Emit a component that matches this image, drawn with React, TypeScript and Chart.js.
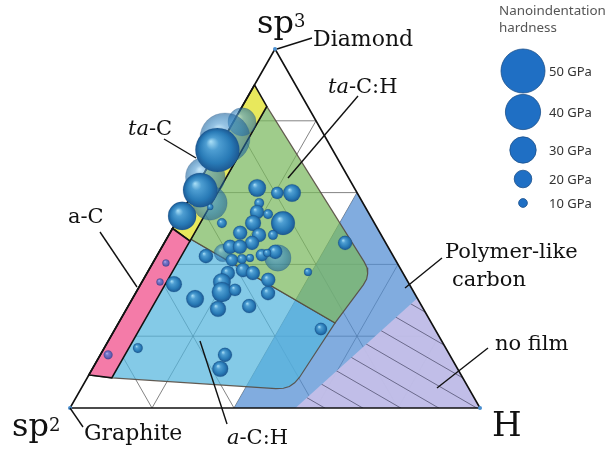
import React, { useEffect, useRef } from "react";
import { Chart, registerables } from "chart.js";

Chart.register(...registerables);

// ---------- data (ternary coordinates: sp3 %, H %, sp2 = 100 - sp3 - H) ----------
const cornerNames = ["sp3", "sp2", "H"];
const gridFractions = [20, 40, 60, 80];

// phase regions, vertices as [sp3 %, H %]
const polymerRegion = [[60, 40], [0, 40], [0, 100]];
const noFilmRegion = [[30.6, 69.4], [0, 55], [0, 100]];
const aCHRegion = [[47, 6], [23.7, 52.8], [8.5, 51.7], [7.0, 51.3], [6.0, 50.5], [5.5, 49.3], [5.4, 47.5], [8.4, 6], [9.2, 0], [50, 0]];
const taCHRegion = [[84, 6], [40.7, 51.4], [39.1, 52.9], [37.4, 53.9], [35.9, 54.4], [34.3, 54.4], [23.7, 52.8], [47, 6]];
const taCRegion = [[90, 0], [84, 6], [46.5, 6], [50, 0]];
const aCRegion = [[50, 0], [46.5, 6], [8.4, 6], [9.2, 0]];

// films, solid spheres
const filmSp3 = [71.9, 60.7, 53.5, 56.0, 51.5, 61.3, 59.9, 59.9, 57.1, 54.6, 54.0, 51.5, 51.5, 48.8, 48.2, 48.2, 46.0, 44.9, 44.9, 42.3, 43.5, 42.6, 41.2, 41.5, 41.8, 43.2, 34.5, 37.6, 38.4, 37.6, 35.7, 35.1, 32.3, 32.9, 30.4, 27.6, 28.4, 32.0, 37.9, 46.0, 22.0, 14.8, 10.9, 16.7];
const filmH = [0.0, 1.4, 0.6, 6.2, 11.3, 15.0, 20.6, 24.2, 17.6, 18.3, 21.3, 26.2, 18.9, 17.1, 22.0, 25.4, 21.4, 16.6, 19.0, 12.0, 28.3, 25.5, 18.9, 21.2, 23.0, 26.5, 8.1, 19.7, 23.0, 25.8, 30.5, 19.5, 20.9, 23.8, 15.3, 22.3, 29.5, 32.3, 39.1, 44.1, 50.2, 30.4, 31.2, 8.2];
const filmGPa = [50, 39, 32, 7, 11, 20, 14, 20, 11, 16, 11, 27, 18, 16, 16, 11, 16, 16, 16, 16, 16, 14, 14, 11, 9, 9, 18, 16, 16, 16, 16, 20, 23, 14, 20, 18, 16, 16, 9, 16, 14, 16, 18, 11];

// films, translucent spheres
const haloSp3 = [79.7, 75.2, 64.4, 57.1, 43.2, 41.8];
const haloH = [2.1, 0.2, 0.8, 5.6, 15.7, 29.8];
const haloGPa = [32, 57, 45, 39, 20, 30];

// films inside the a-C band
const bandSp3 = [40.4, 35.1, 14.8];
const bandH = [3.2, 4.4, 1.9];
const bandGPa = [8, 8, 10];

// legend
const legendGPa = [50, 40, 30, 20, 10];

// ---------- helpers ----------
const toXY = (sp3: number, h: number) => ({ x: h / 100 + sp3 / 200, y: sp3 / 100 });
const radiusOf = (gpa: number) => gpa * 0.44;

function polygon(points: number[][]) {
  const pts = points.map(([a, h]) => toXY(a, h));
  pts.push(pts[0]);
  return pts;
}

function region(label: string, pts: number[][], fill: any, border: string, width: number) {
  return {
    type: "line",
    label,
    data: polygon(pts),
    fill: "shape",
    backgroundColor: fill,
    borderColor: border,
    borderWidth: width,
    pointRadius: 0,
    tension: 0,
    clip: false,
  };
}

function makeHatch() {
  const c = document.createElement("canvas");
  c.width = 38;
  c.height = 22;
  const g = c.getContext("2d")!;
  g.fillStyle = "rgba(198,192,232,0.93)";
  g.fillRect(0, 0, 38, 22);
  g.strokeStyle = "rgba(70,70,100,0.7)";
  g.lineWidth = 1;
  for (const dy of [-22, 0, 22]) {
    g.beginPath();
    g.moveTo(-2, dy - (2 * 22) / 38);
    g.lineTo(40, dy + (40 * 22) / 38);
    g.stroke();
  }
  return g.createPattern(c, "repeat");
}

function sphere(stops: [number, string][]) {
  return (ctx: any) => {
    const chart = ctx.chart;
    const raw = ctx.raw;
    if (!raw || !chart.chartArea) return stops[2][1];
    const px = chart.scales.x.getPixelForValue(raw.x);
    const py = chart.scales.y.getPixelForValue(raw.y);
    const r = raw.r;
    const g = chart.ctx.createRadialGradient(px - r * 0.3, py - r * 0.38, r * 0.02, px, py, r);
    for (const [o, col] of stops) g.addColorStop(o, col);
    return g;
  };
}

function bubbles(label: string, sp3: number[], h: number[], gpa: number[], stops: [number, string][]) {
  return {
    type: "bubble",
    label,
    data: sp3.map((a, i) => ({ ...toXY(a, h[i]), r: radiusOf(gpa[i]) })),
    backgroundColor: sphere(stops),
    borderColor: "rgba(20,70,120,0.35)",
    borderWidth: 0.5,
    clip: false,
  };
}

const SERIF = '"DejaVu Serif", serif';
const SANS = '"Noto Sans", sans-serif';

function rich(c: CanvasRenderingContext2D, parts: [string, string, number?][], x: number, y: number) {
  let cx = x;
  for (const [t, font, dy] of parts) {
    c.font = font;
    c.fillText(t, cx, y + (dy || 0));
    cx += c.measureText(t).width;
  }
}

const annotate = {
  id: "annotate",
  afterDraw(chart: any) {
    const c: CanvasRenderingContext2D = chart.ctx;
    c.save();
    c.strokeStyle = "#111";
    c.lineWidth = 1.4;
    const leaders = [
      [277, 49, 312, 38],
      [358, 96, 288, 178],
      [164, 139, 196, 158],
      [100, 232, 137, 287],
      [442, 258, 405, 288],
      [488, 348, 437, 388],
      [200, 341, 227, 424],
      [70, 408, 83, 427],
    ];
    for (const [x1, y1, x2, y2] of leaders) {
      c.beginPath();
      c.moveTo(x1, y1);
      c.lineTo(x2, y2);
      c.stroke();
    }
    c.fillStyle = "#111";
    c.textBaseline = "alphabetic";
    const f = (s: number, it = false) => `${it ? "italic " : ""}${s}px ${SERIF}`;
    // corner labels
    rich(c, [[cornerNames[0].slice(0, 2), f(32)], [cornerNames[0].slice(2), f(18), -6]], 257, 33);
    rich(c, [[cornerNames[1].slice(0, 2), f(32)], [cornerNames[1].slice(2), f(18), -5]], 12, 436);
    rich(c, [[cornerNames[2], f(34)]], 492, 436);
    // phase labels
    rich(c, [["Diamond", f(22)]], 313, 46);
    rich(c, [["Graphite", f(22)]], 84, 440);
    rich(c, [["ta", f(21, true)], ["-C:H", f(21)]], 328, 93);
    rich(c, [["ta", f(21, true)], ["-C", f(21)]], 128, 135);
    rich(c, [["a-C", f(21)]], 68, 223);
    rich(c, [["Polymer-like", f(21)]], 445, 258);
    rich(c, [["carbon", f(21)]], 452, 286);
    rich(c, [["no film", f(21)]], 495, 350);
    rich(c, [["a", f(21, true)], ["-C:H", f(21)]], 227, 444);

    // legend
    c.fillStyle = "#555";
    c.font = `13.4px ${SANS}`;
    c.fillText("Nanoindentation", 499, 15);
    c.fillText("hardness", 499, 32);
    const ys = [71, 112, 150, 179, 203];
    legendGPa.forEach((v, i) => {
      c.beginPath();
      c.arc(523, ys[i], radiusOf(v), 0, Math.PI * 2);
      c.fillStyle = "#1f6fc4";
      c.fill();
      c.strokeStyle = "#1a4f8a";
      c.lineWidth = 0.8;
      c.stroke();
      c.fillStyle = "#333";
      c.font = `13px ${SANS}`;
      c.textBaseline = "middle";
      c.fillText(`${v} GPa`, 549, ys[i] + 1);
      c.textBaseline = "alphabetic";
    });
    c.restore();
  },
};

export default function App() {
  const ref = useRef<HTMLCanvasElement>(null);
  useEffect(() => {
    const canvas = ref.current!;
    const hatch = makeHatch();
    const ds: any[] = [];
    // grid
    for (const k of gridFractions) {
      const lines = [
        [[k, 0], [k, 100 - k]],
        [[0, k], [100 - k, k]],
        [[0, 100 - k], [100 - k, 0]],
      ];
      for (const ln of lines) {
        ds.push({
          type: "line",
          label: "grid",
          data: ln.map(([a, h]) => toXY(a, h)),
          borderColor: "rgba(70,70,70,0.75)",
          borderWidth: 0.9,
          pointRadius: 0,
          fill: false,
          clip: false,
        });
      }
    }
    ds.push(region("Polymer-like carbon", polymerRegion, "rgba(80,140,210,0.72)", "rgba(0,0,0,0)", 0));
    ds.push(region("a-C:H", aCHRegion, "rgba(85,182,222,0.72)", "rgba(85,75,65,0.9)", 1.2));
    ds.push(region("ta-C:H", taCHRegion, "rgba(122,184,94,0.72)", "rgba(85,75,65,0.9)", 1.2));
    ds.push(region("no film", noFilmRegion, hatch, "rgba(0,0,0,0)", 0));
    ds.push(region("ta-C", taCRegion, "#e8e85c", "#111", 1.6));
    ds.push(region("a-C", aCRegion, "#f47ba8", "#111", 1.6));
    // triangle outline
    ds.push({
      type: "line",
      label: "outline",
      data: polygon([[100, 0], [0, 0], [0, 100]]),
      borderColor: "#111",
      borderWidth: 1.6,
      pointRadius: 0,
      fill: false,
      clip: false,
    });
    ds.push(
      bubbles("translucent", haloSp3, haloH, haloGPa, [
        [0, "rgba(160,215,245,0.6)"],
        [0.3, "rgba(80,155,210,0.6)"],
        [0.75, "rgba(40,120,180,0.6)"],
        [1, "rgba(30,95,150,0.6)"],
      ])
    );
    ds.push(
      bubbles("films", filmSp3, filmH, filmGPa, [
        [0, "rgba(165,220,245,1)"],
        [0.28, "rgba(78,158,210,1)"],
        [0.72, "rgba(40,122,182,1)"],
        [1, "rgba(28,88,146,1)"],
      ])
    );
    ds.push(
      bubbles("a-C films", bandSp3, bandH, bandGPa, [
        [0, "rgba(180,180,240,1)"],
        [0.3, "rgba(125,125,205,1)"],
        [0.75, "rgba(95,95,180,1)"],
        [1, "rgba(75,70,150,1)"],
      ])
    );
    // corner markers
    ds.push({
      type: "scatter",
      label: "corners",
      data: [toXY(100, 0), toXY(0, 0), toXY(0, 100)],
      pointRadius: 2,
      backgroundColor: "#4a8fd0",
      borderWidth: 0,
      clip: false,
    });
    ds.forEach((d, i) => (d.order = ds.length - i));

    const chart = new Chart(canvas, {
      type: "scatter",
      data: { datasets: ds },
      options: {
        responsive: false,
        animation: false,
        events: [],
        layout: { padding: { left: 70, right: 130, top: 49, bottom: 44 } },
        scales: {
          x: { type: "linear", min: 0, max: 1, display: false },
          y: { type: "linear", min: 0, max: 1, display: false },
        },
        plugins: { legend: { display: false }, tooltip: { enabled: false } },
      } as any,
      plugins: [annotate],
    } as any);
    return () => chart.destroy();
  }, []);
  return (
    <div style={{ position: "absolute", left: 0, top: 0, width: 610, height: 452, background: "#fff" }}>
      <canvas ref={ref} width={610} height={452} style={{ display: "block" }} />
    </div>
  );
}
